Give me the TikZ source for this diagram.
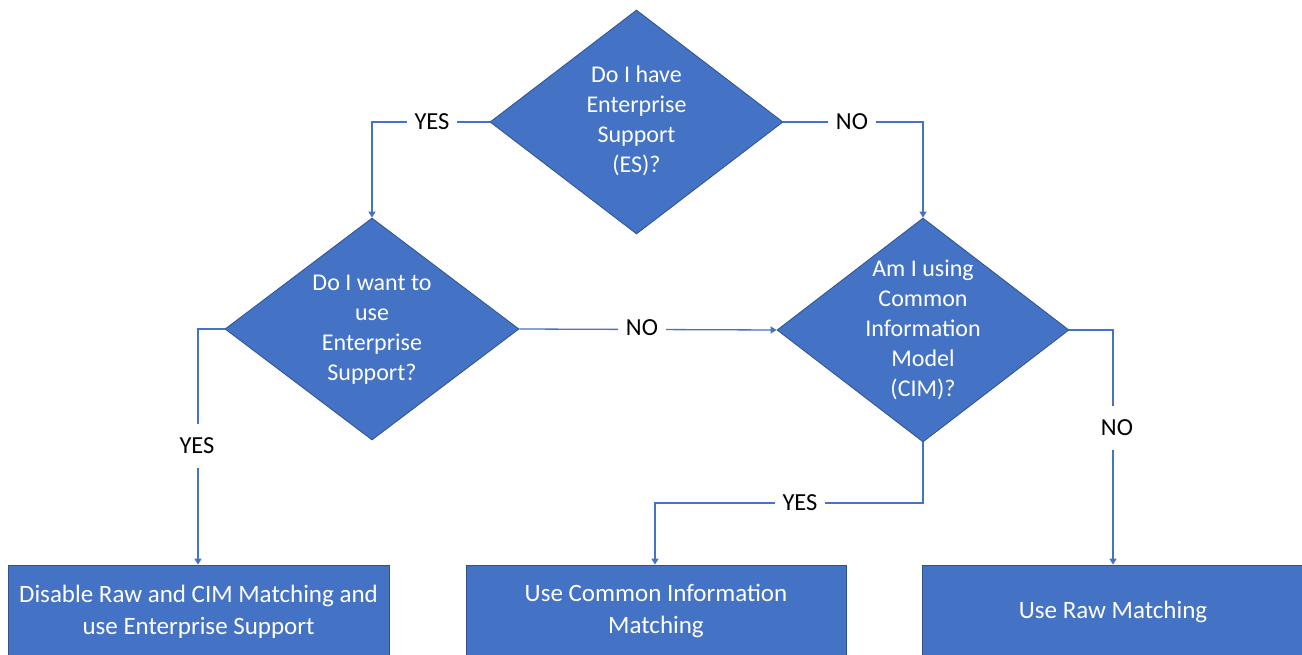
\documentclass[tikz,border=0pt]{standalone}
\usepackage{fontspec}
\setmainfont{Carlito}
\usetikzlibrary{shapes.geometric,arrows.meta}
\definecolor{fillblue}{HTML}{4472C4}
\definecolor{edgeblue}{HTML}{2F528F}
\tikzset{
  decision/.style={diamond,draw=edgeblue,line width=0.8pt,fill=fillblue,inner sep=0pt},
  dtext/.style={text=white,inner sep=0pt,align=center,font=\fontsize{24}{30}\selectfont},
  outcome/.style={rectangle,draw=edgeblue,line width=0.8pt,fill=fillblue,text=white,inner sep=0pt,align=center,font=\fontsize{25}{32}\selectfont},
  conn/.style={draw=fillblue,line width=1.3pt},
  arr/.style={conn,-{Triangle[width=7pt,length=6pt]}},
  lbl/.style={fill=white,text=black,inner sep=0pt,inner xsep=8pt,font=\fontsize{24.5}{27}\selectfont}
}
\begin{document}
\begin{tikzpicture}[x=1pt,y=-1pt]
\useasboundingbox (0,0) rectangle (1302,655);
\clip (0,0) rectangle (1302,655);
\fill[white] (0,0) rectangle (1302,655);
% decisions
\node[decision,minimum width=293pt,minimum height=224pt] (es) at (636.5,122) {};
\node[dtext] (est) at (636.5,121) {Do I have\\Enterprise\\Support\\(ES)?};
\node[decision,minimum width=294pt,minimum height=222pt] (want) at (372,329) {};
\node[dtext] (wantt) at (372,330) {Do I want to\\use\\Enterprise\\Support?};
\node[decision,minimum width=292pt,minimum height=224pt] (cim) at (923,330) {};
\node[dtext] (cimt) at (923,330) {Am I using\\Common\\Information\\Model\\(CIM)?};
% outcomes
\node[outcome,minimum width=381pt,minimum height=93pt] (dis) at (198.5,611.5) {Disable Raw and CIM Matching and\\use Enterprise Support};
\node[outcome,minimum width=380pt,minimum height=93pt] (ucim) at (656,611.5) {Use Common Information\\Matching};
\node[outcome,minimum width=382pt,minimum height=93pt] (raw) at (1113,611.5) {Use Raw Matching};
% coordinates
\coordinate (c1) at (372,122);
\coordinate (c2) at (923,122);
\coordinate (c3) at (198,329);
\coordinate (c4) at (923,503);
\coordinate (c5) at (655,503);
\coordinate (c6) at (1113,330);
% connectors
\draw[arr] (es.west) -- (c1) -- (want.north);
\draw[arr] (es.east) -- (c2) -- (cim.north);
\draw[arr] (want.west) -- (c3) -- (c3 |- dis.north);
\draw[arr] (want.east) -- (cim.west);
\draw[arr] (cim.south) -- (c4) -- (c5) -- (c5 |- ucim.north);
\draw[arr] (cim.east) -- (c6) -- (c6 |- raw.north);
% labels
\node[lbl] (l1) at (432,122) {YES};
\node[lbl] (l2) at (852,122) {NO};
\node[lbl,inner xsep=0pt,inner ysep=14pt] (l3) at (197,446) {YES};
\node[lbl] (l4) at (642,328) {NO};
\node[lbl] (l5) at (800,503) {YES};
\node[lbl,inner xsep=0pt,inner ysep=14pt] (l6) at (1117,428) {NO};
\end{tikzpicture}
\end{document}
